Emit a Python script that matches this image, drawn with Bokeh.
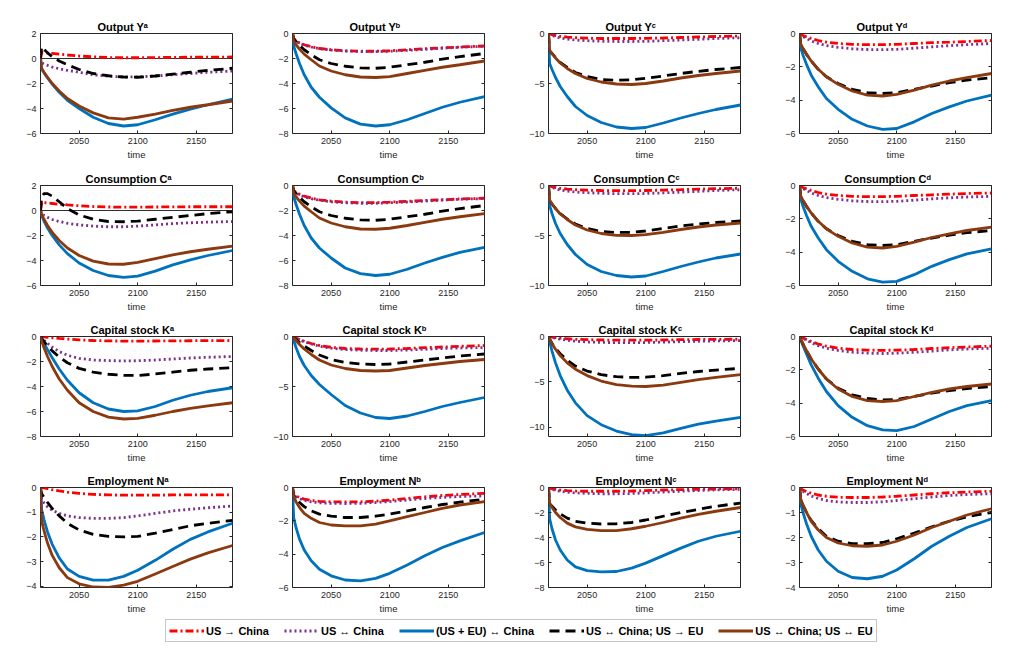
from bokeh.plotting import figure
from bokeh.models import (Range1d, FixedTicker, LinearAxis, Span, Legend,
                          LegendItem, CustomJSTickFormatter)
from bokeh.layouts import column, row
from bokeh.embed import file_html
from bokeh.resources import INLINE

# ---------------- data ----------------
YEARS = [2017, 2018, 2020, 2023, 2027, 2033, 2040, 2050, 2062, 2075, 2088, 2100, 2115, 2130, 2145, 2160, 2181]
X_TICKS = [2050, 2100, 2150]
X_START, X_END = 2017, 2181

LABELS = ["US \u2192 China", "US \u2194 China", "(US + EU) \u2194 China",
          "US \u2194 China; US \u2192 EU", "US \u2194 China; US \u2194 EU"]
COLORS = ["#FF0000", "#7E2F8E", "#0072BD", "#000000", "#8B3A0F"]
DASHES = ["8 3 2 3", "2 3", "solid", "10 6", "solid"]

# Output Y
ya_red    = [0, 0.5, 0.48, 0.45, 0.41, 0.35, 0.28, 0.2, 0.13, 0.08, 0.06, 0.06, 0.07, 0.09, 0.1, 0.11, 0.12]
ya_purple = [0, -0.35, -0.45, -0.55, -0.68, -0.82, -0.95, -1.1, -1.3, -1.42, -1.48, -1.47, -1.4, -1.3, -1.2, -1.1, -1.0]
ya_blue   = [0, -0.85, -1.15, -1.55, -2.05, -2.7, -3.35, -4.0, -4.7, -5.2, -5.4, -5.3, -4.9, -4.45, -4.05, -3.7, -3.25]
ya_black  = [0, 0.95, 0.75, 0.45, 0.15, -0.2, -0.5, -0.88, -1.2, -1.38, -1.48, -1.5, -1.4, -1.25, -1.1, -0.95, -0.78]
ya_brown  = [0, -0.8, -1.1, -1.5, -2.0, -2.6, -3.2, -3.8, -4.35, -4.75, -4.85, -4.7, -4.45, -4.15, -3.9, -3.7, -3.4]

yb_red    = [0, -0.4, -0.6, -0.75, -0.9, -1.05, -1.2, -1.3, -1.38, -1.42, -1.42, -1.38, -1.3, -1.22, -1.15, -1.08, -1.0]
yb_purple = [0, -0.45, -0.62, -0.78, -0.93, -1.08, -1.22, -1.33, -1.4, -1.45, -1.45, -1.42, -1.35, -1.27, -1.18, -1.1, -1.02]
yb_blue   = [0, -1.0, -1.6, -2.4, -3.3, -4.3, -5.1, -5.95, -6.75, -7.25, -7.4, -7.3, -6.9, -6.4, -5.9, -5.5, -5.05]
yb_black  = [0, -0.4, -0.65, -0.95, -1.3, -1.7, -2.1, -2.4, -2.62, -2.75, -2.78, -2.7, -2.5, -2.3, -2.05, -1.85, -1.6]
yb_brown  = [0, -0.6, -0.9, -1.25, -1.65, -2.1, -2.6, -3.0, -3.3, -3.48, -3.52, -3.45, -3.2, -2.95, -2.7, -2.5, -2.2]

yc_red    = [0, -0.05, -0.12, -0.2, -0.28, -0.36, -0.42, -0.47, -0.5, -0.5, -0.5, -0.48, -0.45, -0.4, -0.35, -0.3, -0.25]
yc_purple = [0, -0.1, -0.2, -0.32, -0.45, -0.56, -0.65, -0.72, -0.78, -0.8, -0.8, -0.78, -0.72, -0.65, -0.58, -0.5, -0.42]
yc_blue   = [0, -3.0, -3.6, -4.4, -5.3, -6.3, -7.3, -8.2, -8.9, -9.35, -9.5, -9.4, -8.95, -8.45, -8.0, -7.6, -7.15]
yc_black  = [0, -1.7, -2.0, -2.4, -2.9, -3.4, -3.9, -4.3, -4.6, -4.67, -4.62, -4.48, -4.25, -4.0, -3.78, -3.6, -3.4]
yc_brown  = [0, -1.7, -2.0, -2.45, -2.95, -3.5, -4.0, -4.5, -4.85, -5.05, -5.1, -5.0, -4.75, -4.45, -4.2, -4.0, -3.75]

yd_red    = [0, -0.05, -0.12, -0.2, -0.3, -0.42, -0.52, -0.6, -0.65, -0.67, -0.67, -0.65, -0.6, -0.55, -0.52, -0.48, -0.42]
yd_purple = [0, -0.08, -0.18, -0.3, -0.45, -0.6, -0.72, -0.83, -0.92, -0.96, -0.97, -0.95, -0.88, -0.8, -0.73, -0.67, -0.6]
yd_blue   = [0, -0.85, -1.3, -1.85, -2.5, -3.2, -3.9, -4.55, -5.15, -5.55, -5.75, -5.7, -5.3, -4.8, -4.4, -4.05, -3.7]
yd_black  = [0, -0.6, -0.9, -1.25, -1.65, -2.15, -2.6, -3.0, -3.35, -3.55, -3.6, -3.55, -3.35, -3.15, -2.95, -2.8, -2.65]
yd_brown  = [0, -0.6, -0.9, -1.25, -1.65, -2.15, -2.6, -3.05, -3.45, -3.7, -3.75, -3.65, -3.4, -3.1, -2.85, -2.65, -2.4]

# Consumption C
ca_red    = [0, 0.65, 0.63, 0.6, 0.56, 0.5, 0.45, 0.38, 0.32, 0.28, 0.27, 0.27, 0.28, 0.29, 0.3, 0.3, 0.3]
ca_purple = [0, -0.25, -0.4, -0.55, -0.72, -0.88, -1.02, -1.15, -1.25, -1.3, -1.3, -1.25, -1.15, -1.05, -0.98, -0.93, -0.88]
ca_blue   = [0, -0.4, -0.85, -1.4, -2.0, -2.75, -3.45, -4.2, -4.8, -5.2, -5.35, -5.25, -4.85, -4.35, -3.95, -3.6, -3.2]
ca_black  = [0, 1.1, 1.35, 1.35, 1.15, 0.7, 0.15, -0.35, -0.7, -0.88, -0.9, -0.85, -0.7, -0.55, -0.4, -0.25, -0.1]
ca_brown  = [0, -0.3, -0.7, -1.2, -1.75, -2.4, -3.0, -3.6, -4.05, -4.28, -4.3, -4.15, -3.85, -3.55, -3.3, -3.1, -2.85]

cb_red    = [0, -0.4, -0.55, -0.7, -0.85, -1.0, -1.15, -1.25, -1.33, -1.37, -1.37, -1.33, -1.27, -1.2, -1.14, -1.08, -1.02]
cb_purple = [0, -0.45, -0.6, -0.75, -0.9, -1.05, -1.18, -1.3, -1.38, -1.42, -1.42, -1.38, -1.32, -1.25, -1.17, -1.1, -1.05]
cb_blue   = [0, -0.9, -1.5, -2.3, -3.2, -4.2, -5.0, -5.8, -6.6, -7.05, -7.2, -7.1, -6.7, -6.2, -5.75, -5.35, -4.95]
cb_black  = [0, -0.4, -0.65, -0.95, -1.3, -1.7, -2.1, -2.4, -2.62, -2.75, -2.78, -2.7, -2.5, -2.3, -2.05, -1.85, -1.6]
cb_brown  = [0, -0.6, -0.9, -1.25, -1.65, -2.1, -2.6, -3.0, -3.3, -3.48, -3.5, -3.42, -3.2, -2.95, -2.7, -2.5, -2.25]

cc_red    = [0, -0.05, -0.12, -0.2, -0.28, -0.36, -0.42, -0.47, -0.5, -0.52, -0.52, -0.5, -0.46, -0.42, -0.37, -0.32, -0.27]
cc_purple = [0, -0.1, -0.2, -0.32, -0.45, -0.56, -0.65, -0.72, -0.78, -0.82, -0.82, -0.8, -0.74, -0.66, -0.58, -0.5, -0.42]
cc_blue   = [0, -2.0, -2.8, -3.8, -4.8, -5.9, -6.9, -7.9, -8.6, -9.0, -9.15, -9.05, -8.6, -8.1, -7.65, -7.25, -6.85]
cc_black  = [0, -1.5, -1.85, -2.3, -2.8, -3.35, -3.85, -4.3, -4.6, -4.7, -4.68, -4.55, -4.3, -4.05, -3.85, -3.7, -3.55]
cc_brown  = [0, -1.5, -1.85, -2.3, -2.85, -3.4, -3.95, -4.45, -4.8, -4.98, -5.0, -4.92, -4.68, -4.4, -4.15, -3.95, -3.75]

cd_red    = [0, -0.05, -0.12, -0.2, -0.3, -0.42, -0.52, -0.6, -0.65, -0.67, -0.67, -0.65, -0.6, -0.56, -0.52, -0.48, -0.45]
cd_purple = [0, -0.08, -0.18, -0.3, -0.45, -0.6, -0.72, -0.83, -0.92, -0.96, -0.97, -0.95, -0.88, -0.8, -0.74, -0.69, -0.65]
cd_blue   = [0, -0.8, -1.25, -1.8, -2.45, -3.15, -3.85, -4.55, -5.15, -5.6, -5.8, -5.75, -5.35, -4.85, -4.45, -4.1, -3.8]
cd_black  = [0, -0.6, -0.9, -1.25, -1.65, -2.15, -2.6, -3.0, -3.35, -3.55, -3.6, -3.55, -3.35, -3.15, -2.98, -2.83, -2.7]
cd_brown  = [0, -0.6, -0.9, -1.25, -1.65, -2.15, -2.6, -3.05, -3.45, -3.7, -3.75, -3.65, -3.4, -3.12, -2.9, -2.7, -2.5]

# Capital stock K
ka_red    = [0, -0.01, -0.03, -0.06, -0.1, -0.15, -0.2, -0.27, -0.32, -0.35, -0.37, -0.37, -0.36, -0.35, -0.34, -0.33, -0.32]
ka_purple = [0, -0.12, -0.3, -0.55, -0.85, -1.2, -1.5, -1.75, -1.88, -1.93, -1.95, -1.94, -1.88, -1.8, -1.72, -1.66, -1.6]
ka_blue   = [0, -0.2, -0.55, -1.05, -1.7, -2.6, -3.5, -4.5, -5.3, -5.8, -6.0, -5.95, -5.6, -5.1, -4.7, -4.4, -4.1]
ka_black  = [0, -0.15, -0.4, -0.75, -1.15, -1.65, -2.1, -2.55, -2.85, -3.02, -3.1, -3.12, -3.0, -2.85, -2.7, -2.6, -2.5]
ka_brown  = [0, -0.35, -0.9, -1.6, -2.4, -3.4, -4.3, -5.3, -6.0, -6.45, -6.6, -6.55, -6.3, -6.0, -5.75, -5.55, -5.3]

kb_red    = [0, -0.05, -0.15, -0.3, -0.48, -0.7, -0.9, -1.08, -1.2, -1.25, -1.27, -1.25, -1.2, -1.12, -1.05, -0.98, -0.9]
kb_purple = [0, -0.06, -0.17, -0.33, -0.52, -0.75, -0.97, -1.17, -1.3, -1.37, -1.4, -1.4, -1.35, -1.28, -1.2, -1.15, -1.1]
kb_blue   = [0, -0.4, -1.1, -2.0, -2.9, -3.9, -4.8, -5.8, -6.9, -7.65, -8.1, -8.2, -7.95, -7.5, -7.0, -6.6, -6.1]
kb_black  = [0, -0.1, -0.3, -0.6, -0.95, -1.4, -1.85, -2.3, -2.6, -2.75, -2.8, -2.75, -2.55, -2.35, -2.15, -1.95, -1.75]
kb_brown  = [0, -0.15, -0.4, -0.8, -1.25, -1.8, -2.35, -2.85, -3.2, -3.4, -3.45, -3.4, -3.15, -2.9, -2.7, -2.5, -2.3]

kc_red    = [0, -0.02, -0.06, -0.12, -0.18, -0.25, -0.3, -0.35, -0.38, -0.4, -0.4, -0.4, -0.38, -0.35, -0.33, -0.31, -0.3]
kc_purple = [0, -0.03, -0.1, -0.2, -0.3, -0.42, -0.52, -0.6, -0.65, -0.67, -0.68, -0.66, -0.62, -0.57, -0.52, -0.48, -0.45]
kc_blue   = [0, -0.6, -1.6, -2.9, -4.3, -5.9, -7.3, -8.7, -9.7, -10.4, -10.8, -10.9, -10.6, -10.1, -9.65, -9.3, -8.9]
kc_black  = [0, -0.3, -0.75, -1.3, -1.9, -2.6, -3.25, -3.8, -4.2, -4.42, -4.5, -4.48, -4.3, -4.05, -3.85, -3.7, -3.5]
kc_brown  = [0, -0.3, -0.8, -1.4, -2.1, -2.9, -3.6, -4.3, -4.9, -5.3, -5.45, -5.5, -5.35, -5.05, -4.75, -4.5, -4.2]

kd_red    = [0, -0.02, -0.08, -0.18, -0.3, -0.45, -0.58, -0.7, -0.78, -0.82, -0.83, -0.82, -0.78, -0.72, -0.67, -0.63, -0.58]
kd_purple = [0, -0.03, -0.1, -0.22, -0.37, -0.55, -0.7, -0.84, -0.94, -1.0, -1.02, -1.0, -0.95, -0.88, -0.8, -0.75, -0.7]
kd_blue   = [0, -0.2, -0.55, -1.05, -1.7, -2.5, -3.3, -4.15, -4.85, -5.35, -5.6, -5.65, -5.4, -4.95, -4.5, -4.15, -3.85]
kd_black  = [0, -0.15, -0.45, -0.85, -1.35, -1.95, -2.55, -3.1, -3.5, -3.72, -3.8, -3.78, -3.6, -3.4, -3.25, -3.12, -3.0]
kd_brown  = [0, -0.15, -0.45, -0.85, -1.35, -1.95, -2.55, -3.15, -3.6, -3.85, -3.9, -3.85, -3.6, -3.35, -3.15, -3.0, -2.85]

# Employment N
na_red    = [0, 0.0, -0.02, -0.05, -0.09, -0.14, -0.19, -0.24, -0.28, -0.3, -0.31, -0.31, -0.31, -0.3, -0.3, -0.3, -0.3]
na_purple = [0, -0.5, -0.62, -0.78, -0.92, -1.05, -1.15, -1.22, -1.25, -1.25, -1.22, -1.15, -1.05, -0.95, -0.88, -0.82, -0.75]
na_blue   = [0, -0.9, -1.3, -1.8, -2.3, -2.85, -3.3, -3.6, -3.75, -3.75, -3.6, -3.35, -2.95, -2.5, -2.1, -1.8, -1.45]
na_black  = [0, -0.25, -0.4, -0.6, -0.85, -1.15, -1.45, -1.72, -1.9, -1.98, -2.0, -1.98, -1.85, -1.7, -1.55, -1.45, -1.33]
na_brown  = [0, -1.35, -1.75, -2.25, -2.75, -3.25, -3.65, -3.9, -4.03, -4.05, -3.95, -3.8, -3.5, -3.2, -2.9, -2.65, -2.35]

nb_red    = [0, -0.4, -0.5, -0.6, -0.7, -0.78, -0.83, -0.86, -0.87, -0.86, -0.82, -0.76, -0.66, -0.56, -0.48, -0.42, -0.35]
nb_purple = [0, -0.45, -0.55, -0.67, -0.77, -0.86, -0.92, -0.95, -0.96, -0.95, -0.9, -0.84, -0.75, -0.66, -0.59, -0.54, -0.5]
nb_blue   = [0, -1.8, -2.4, -3.1, -3.75, -4.4, -4.9, -5.3, -5.55, -5.6, -5.45, -5.15, -4.65, -4.1, -3.6, -3.2, -2.7]
nb_black  = [0, -0.45, -0.65, -0.9, -1.15, -1.4, -1.6, -1.72, -1.8, -1.8, -1.72, -1.6, -1.4, -1.2, -1.02, -0.88, -0.7]
nb_brown  = [0, -0.55, -0.85, -1.2, -1.55, -1.85, -2.1, -2.25, -2.3, -2.3, -2.2, -2.0, -1.75, -1.5, -1.25, -1.05, -0.85]

nc_red    = [0, -0.05, -0.1, -0.15, -0.2, -0.25, -0.28, -0.3, -0.3, -0.3, -0.28, -0.25, -0.2, -0.17, -0.14, -0.12, -0.1]
nc_purple = [0, -0.08, -0.15, -0.23, -0.3, -0.38, -0.43, -0.47, -0.5, -0.5, -0.48, -0.43, -0.36, -0.3, -0.24, -0.19, -0.15]
nc_blue   = [0, -2.5, -3.3, -4.2, -5.0, -5.8, -6.35, -6.65, -6.75, -6.72, -6.45, -6.05, -5.45, -4.85, -4.3, -3.9, -3.5]
nc_black  = [0, -1.3, -1.5, -1.8, -2.1, -2.45, -2.7, -2.85, -2.92, -2.9, -2.8, -2.6, -2.3, -2.0, -1.75, -1.5, -1.25]
nc_brown  = [0, -1.3, -1.6, -2.0, -2.4, -2.85, -3.15, -3.35, -3.45, -3.45, -3.3, -3.1, -2.8, -2.45, -2.15, -1.9, -1.6]

nd_red    = [0, -0.05, -0.1, -0.16, -0.23, -0.3, -0.35, -0.39, -0.4, -0.4, -0.38, -0.35, -0.3, -0.25, -0.21, -0.18, -0.15]
nd_purple = [0, -0.08, -0.15, -0.24, -0.34, -0.44, -0.52, -0.58, -0.6, -0.6, -0.57, -0.52, -0.45, -0.38, -0.32, -0.28, -0.25]
nd_blue   = [0, -0.65, -1.0, -1.45, -1.95, -2.5, -2.95, -3.35, -3.6, -3.65, -3.55, -3.3, -2.85, -2.35, -1.95, -1.6, -1.25]
nd_black  = [0, -0.45, -0.7, -1.0, -1.32, -1.65, -1.95, -2.15, -2.25, -2.25, -2.2, -2.05, -1.82, -1.57, -1.35, -1.17, -1.0]
nd_brown  = [0, -0.45, -0.7, -1.0, -1.35, -1.7, -2.0, -2.22, -2.33, -2.35, -2.3, -2.15, -1.9, -1.6, -1.35, -1.1, -0.85]

TITLES = [
    ["Output Y\u1d43", "Output Y\u1d47", "Output Y\u1d9c", "Output Y\u1d48"],
    ["Consumption C\u1d43", "Consumption C\u1d47", "Consumption C\u1d9c", "Consumption C\u1d48"],
    ["Capital stock K\u1d43", "Capital stock K\u1d47", "Capital stock K\u1d9c", "Capital stock K\u1d48"],
    ["Employment N\u1d43", "Employment N\u1d47", "Employment N\u1d9c", "Employment N\u1d48"],
]
Y_LIMITS = [
    [(-6, 2), (-8, 0), (-10, 0), (-6, 0)],
    [(-6, 2), (-8, 0), (-10, 0), (-6, 0)],
    [(-8, 0), (-10, 0), (-11, 0), (-6, 0)],
    [(-4.05, 0), (-6, 0), (-8, 0), (-4, 0)],
]
Y_TICKS = [
    [[-6, -4, -2, 0, 2], [-8, -6, -4, -2, 0], [-10, -5, 0], [-6, -4, -2, 0]],
    [[-6, -4, -2, 0, 2], [-8, -6, -4, -2, 0], [-10, -5, 0], [-6, -4, -2, 0]],
    [[-8, -6, -4, -2, 0], [-10, -5, 0], [-10, -5, 0], [-6, -4, -2, 0]],
    [[-4, -3, -2, -1, 0], [-6, -4, -2, 0], [-8, -6, -4, -2, 0], [-4, -3, -2, -1, 0]],
]
SERIES = [
    [[ya_red, ya_purple, ya_blue, ya_black, ya_brown], [yb_red, yb_purple, yb_blue, yb_black, yb_brown],
     [yc_red, yc_purple, yc_blue, yc_black, yc_brown], [yd_red, yd_purple, yd_blue, yd_black, yd_brown]],
    [[ca_red, ca_purple, ca_blue, ca_black, ca_brown], [cb_red, cb_purple, cb_blue, cb_black, cb_brown],
     [cc_red, cc_purple, cc_blue, cc_black, cc_brown], [cd_red, cd_purple, cd_blue, cd_black, cd_brown]],
    [[ka_red, ka_purple, ka_blue, ka_black, ka_brown], [kb_red, kb_purple, kb_blue, kb_black, kb_brown],
     [kc_red, kc_purple, kc_blue, kc_black, kc_brown], [kd_red, kd_purple, kd_blue, kd_black, kd_brown]],
    [[na_red, na_purple, na_blue, na_black, na_brown], [nb_red, nb_purple, nb_blue, nb_black, nb_brown],
     [nc_red, nc_purple, nc_blue, nc_black, nc_brown], [nd_red, nd_purple, nd_blue, nd_black, nd_brown]],
]

# ---------------- layout / style ----------------
FONT = "Liberation Sans"
AX = "#262626"
LW = 2.8
FRAME_W, FRAME_H = 192, 100
COL_W = [260, 256, 251, 249]
COL_LEFT = [40, 32, 32, 32]
ROW_TOP = [33, 20, 20, 20]
ROW_BOTTOM = [32, 31, 31, 31]
TITLE_OFFSET = [57, 45, 50, 47]

blank = CustomJSTickFormatter(code="return ''")


def style_axis(ax, ticks, labels=True):
    ax.ticker = FixedTicker(ticks=ticks)
    ax.axis_line_color = None
    ax.major_tick_in = 3
    ax.major_tick_out = 0
    ax.minor_tick_line_color = None
    ax.major_tick_line_color = AX
    ax.major_tick_line_width = 1
    ax.major_label_text_font = FONT
    ax.major_label_text_font_size = "9px"
    ax.major_label_text_color = AX
    ax.major_label_standoff = 4
    if not labels:
        ax.formatter = blank


def make_panel(ri, ci):
    w = COL_W[ci]
    left = COL_LEFT[ci]
    h = ROW_TOP[ri] + FRAME_H + ROW_BOTTOM[ri]
    ylim = Y_LIMITS[ri][ci]
    p = figure(width=w, height=h, x_range=Range1d(X_START, X_END), y_range=Range1d(*ylim),
               output_backend="svg", toolbar_location=None, tools="",
               min_border_left=left, min_border_right=w - left - FRAME_W,
               min_border_top=ROW_TOP[ri], min_border_bottom=ROW_BOTTOM[ri],
               x_axis_label="time", title=TITLES[ri][ci])
    p.title.align = "left"
    p.title.offset = TITLE_OFFSET[ri]
    p.title.text_font = FONT
    p.title.text_font_style = "bold"
    p.title.text_font_size = "11px"
    p.title.text_color = "#000000"
    p.title.standoff = 2
    p.grid.visible = False
    p.outline_line_color = AX
    p.outline_line_width = 1
    p.background_fill_color = "white"
    p.border_fill_color = "white"
    if ylim[0] < 0 < ylim[1]:
        p.add_layout(Span(location=0, dimension="width", line_color="#303030",
                          line_width=1, level="underlay"))
    for vals, col, dash in zip(SERIES[ri][ci], COLORS, DASHES):
        p.line(YEARS, vals, line_color=col, line_width=LW, line_dash=dash)
    style_axis(p.xaxis[0], X_TICKS)
    style_axis(p.yaxis[0], Y_TICKS[ri][ci])
    p.xaxis[0].axis_label_text_font = FONT
    p.xaxis[0].axis_label_text_font_size = "9.5px"
    p.xaxis[0].axis_label_text_font_style = "normal"
    p.xaxis[0].axis_label_text_color = AX
    p.xaxis[0].axis_label_standoff = 2
    ra = LinearAxis()
    style_axis(ra, Y_TICKS[ri][ci], labels=False)
    p.add_layout(ra, "right")
    return p


rows = []
for ri in range(4):
    rows.append(row(*[make_panel(ri, ci) for ci in range(4)]))

# legend strip: proxies drawn from the first panel's series, outside the strip's view
lg = figure(width=1016, height=30, x_range=Range1d(0, 1), y_range=Range1d(0, 1),
            output_backend="svg", toolbar_location=None, tools="", min_border=0,
            x_axis_location=None, y_axis_location=None)
lg.outline_line_color = None
lg.grid.visible = False
items = []
for vals, lab, col, dash in zip(SERIES[0][0], LABELS, COLORS, DASHES):
    r = lg.line(YEARS, vals, line_color=col, line_width=LW, line_dash=dash)
    items.append(LegendItem(label=lab, renderers=[r]))
legend = Legend(items=items, orientation="horizontal", location=(165, 6),
                label_text_font=FONT, label_text_font_size="11px",
                label_text_font_style="bold", label_text_color="#000000",
                glyph_width=35, glyph_height=15, label_height=15,
                label_standoff=2, spacing=15, padding=3, margin=0,
                border_line_color="#8c8c8c", border_line_width=1,
                background_fill_color="white", background_fill_alpha=1)
lg.add_layout(legend, "center")

page = column(*rows, lg)
open("out.html", "w").write(file_html(page, INLINE))
